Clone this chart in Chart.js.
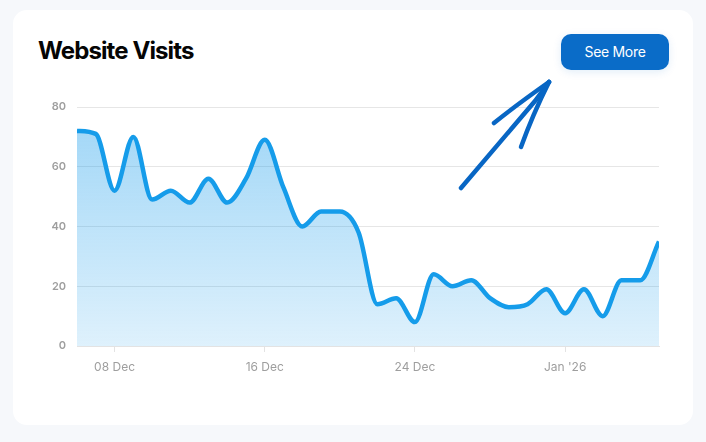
<!DOCTYPE html>
<html lang="en">
<head>
  <meta charset="UTF-8">
  <title>Website Visits</title>
  <script src="https://cdn.jsdelivr.net/npm/chart.js"></script>
  <style>
    html, body { margin: 0; padding: 0; background: #f6f8fb; }
    body { width: 706px; height: 442px; position: relative; overflow: hidden; font-family: Inter, "Noto Sans", sans-serif; }
    .card { position: absolute; left: 13px; top: 10px; width: 680px; height: 415px; background: #fff; border-radius: 14px; }
    h1 { position: absolute; left: 38px; top: 39px; margin: 0; font-size: 24px; line-height: 24px; font-weight: 700; letter-spacing: -0.9px; color: #050505; }
    .btn { position: absolute; left: 561px; top: 34px; width: 108px; height: 36px; border-radius: 10px; background: #0a6cc8; color: #fff;
           font-size: 14px; line-height: 36px; text-align: center; letter-spacing: -0.3px; box-shadow: 0 2px 8px rgba(10,108,200,0.12); }
    #grafica { position: absolute; left: 0; top: 0; }
    svg { position: absolute; left: 0; top: 0; pointer-events: none; }
  </style>
</head>
<body>
  <div class="card"></div>
  <h1>Website Visits</h1>
  <div class="btn">See More</div>
  <canvas id="grafica" width="706" height="442"></canvas>
  <svg width="706" height="442">
    <g stroke="#0866c4" stroke-width="4.5" stroke-linecap="round" fill="none">
      <path d="M461 188 L535 101 L549 82"/>
      <path d="M494 123 C515 106 532 94 549 82"/>
      <path d="M521 147 C530 122 540 100 549 82"/>
    </g>
  </svg>

  <script>
    // one point per day, 06 Dec -> 06 Jan
    const dias = ['06 Dec','07 Dec','08 Dec','09 Dec','10 Dec','11 Dec','12 Dec','13 Dec','14 Dec','15 Dec',
                  '16 Dec','17 Dec','18 Dec','19 Dec','20 Dec','21 Dec','22 Dec','23 Dec','24 Dec','25 Dec',
                  '26 Dec','27 Dec','28 Dec','29 Dec','30 Dec','31 Dec','01 Jan','02 Jan','03 Jan','04 Jan',
                  '05 Jan','06 Jan'];
    const visitas = [72, 71, 52, 70, 49, 52, 48, 56, 48, 56,
                     69, 53, 40, 45, 45, 38, 14, 16, 8, 24,
                     20, 22, 16, 13, 14, 19, 11, 19, 10, 22,
                     22, 35];
    const ticksX = [2, 10, 18, 26];
    const etiquetasX = ['08 Dec', '16 Dec', '24 Dec', "Jan '26"];
    const ticksY = [0, 20, 40, 60, 80];

    const ctx = document.getElementById('grafica').getContext('2d');

    const datos = {
      datasets: [{
        label: 'Website Visits',
        data: visitas.map((v, i) => ({ x: i, y: v })),
        borderColor: '#159cea',
        borderWidth: 4.5,
        pointRadius: 0,
        cubicInterpolationMode: 'monotone',
        fill: 'origin',
        backgroundColor: (c) => {
          const area = c.chart.chartArea;
          if (!area) return 'rgba(24,156,235,0.3)';
          const g = c.chart.ctx.createLinearGradient(0, area.top, 0, area.bottom);
          g.addColorStop(0, 'rgba(24,156,235,0.42)');
          g.addColorStop(1, 'rgba(24,156,235,0.14)');
          return g;
        }
      }]
    };

    const config = {
      type: 'line',
      data: datos,
      options: {
        responsive: false,
        animation: false,
        layout: { padding: { left: 37, right: 47, top: 107, bottom: 66 } },
        plugins: { legend: { display: false }, tooltip: { enabled: false } },
        scales: {
          x: {
            type: 'linear',
            min: 0,
            max: dias.length - 1,
            afterBuildTicks: (s) => { s.ticks = ticksX.map(v => ({ value: v })); },
            afterFit: (s) => { s.height = 30; },
            grid: { drawOnChartArea: false, tickLength: 6, color: '#e3e3e3' },
            border: { color: '#e3e3e3' },
            ticks: {
              padding: 8,
              color: '#9e9e9e',
              font: { family: 'Inter', size: 12 },
              maxRotation: 0,
              callback: (v) => etiquetasX[ticksX.indexOf(v)]
            }
          },
          y: {
            min: 0,
            max: 80,
            afterBuildTicks: (s) => { s.ticks = ticksY.map(v => ({ value: v })); },
            afterFit: (s) => { s.width = 40; },
            grid: { drawTicks: false, color: '#e6e6e6' },
            border: { display: false },
            ticks: {
              padding: 11,
              color: '#9e9e9e',
              font: { family: 'Inter', size: 11, weight: '600' }
            }
          }
        }
      }
    };

    const grafica = new Chart(ctx, config);
  </script>
</body>
</html>
